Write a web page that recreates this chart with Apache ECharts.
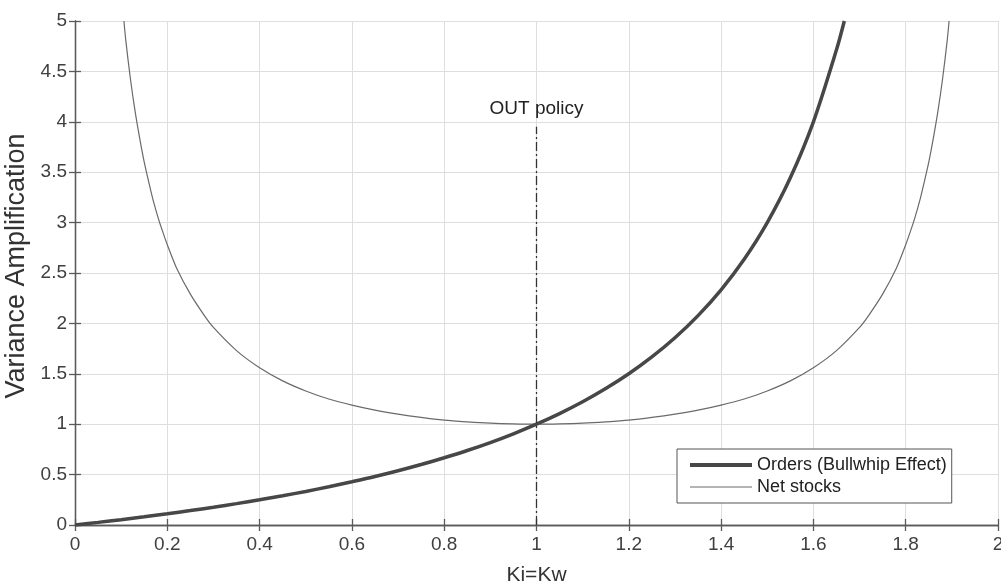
<!DOCTYPE html>
<html>
<head>
<meta charset="utf-8">
<script src="https://cdn.jsdelivr.net/npm/echarts@6/dist/echarts.min.js"></script>
<style>
html,body{margin:0;padding:0;background:#fff;}
#c{width:1001px;height:584px;}
</style>
</head>
<body>
<div id="c"></div>
<script>
// X ticks / Y ticks
var xTicks = [0, 0.2, 0.4, 0.6, 0.8, 1, 1.2, 1.4, 1.6, 1.8, 2];
var yTicks = [0, 0.5, 1, 1.5, 2, 2.5, 3, 3.5, 4, 4.5, 5];

// Orders (Bullwhip Effect)
var ordersK = [0, 0.05, 0.1, 0.15, 0.2, 0.25, 0.3, 0.35, 0.4, 0.45, 0.5, 0.55, 0.6, 0.65, 0.7, 0.75, 0.8, 0.85, 0.9, 0.95, 1.0,
  1.05, 1.1, 1.15, 1.2, 1.25, 1.3, 1.35, 1.4, 1.45, 1.5, 1.55, 1.6, 1.65, 1.667];
var ordersVal = [0, 0.026, 0.053, 0.081, 0.111, 0.143, 0.176, 0.212, 0.25, 0.29, 0.333, 0.379, 0.429, 0.481, 0.538, 0.6, 0.667, 0.739, 0.818, 0.905, 1.0,
  1.105, 1.222, 1.353, 1.5, 1.667, 1.857, 2.077, 2.333, 2.636, 3.0, 3.444, 4.0, 4.714, 5.0];

// Net stocks
var netK = [0.106, 0.11, 0.12, 0.13, 0.14, 0.15, 0.16, 0.17, 0.18, 0.19, 0.2, 0.22, 0.25, 0.28, 0.3, 0.35, 0.4, 0.45, 0.5, 0.55, 0.6, 0.65, 0.7, 0.75, 0.8, 0.85, 0.9, 0.95, 1.0,
  1.05, 1.1, 1.15, 1.2, 1.25, 1.3, 1.35, 1.4, 1.45, 1.5, 1.55, 1.6, 1.65, 1.7, 1.72, 1.75, 1.78, 1.8, 1.81, 1.82, 1.83, 1.84, 1.85, 1.86, 1.87, 1.88, 1.89, 1.894];
var netVal = [5.0, 4.81, 4.43, 4.11, 3.84, 3.60, 3.40, 3.21, 3.05, 2.91, 2.78, 2.55, 2.29, 2.08, 1.96, 1.73, 1.56, 1.43, 1.33, 1.25, 1.19, 1.14, 1.10, 1.067, 1.04, 1.023, 1.01, 1.003, 1.0,
  1.003, 1.01, 1.023, 1.04, 1.067, 1.10, 1.14, 1.19, 1.25, 1.33, 1.43, 1.56, 1.73, 1.96, 2.08, 2.29, 2.55, 2.78, 2.91, 3.05, 3.21, 3.40, 3.60, 3.84, 4.11, 4.43, 4.81, 5.0];

// OUT policy marker line
var outK = [1, 1];
var outVal = [0, 3.95];
var outLabel = 'OUT policy';

var seriesNames = ['Orders (Bullwhip Effect)', 'Net stocks'];
var xName = 'Ki=Kw';
var yName = 'Variance Amplification';

function pairs(a, b) { return a.map(function (v, i) { return [v, b[i]]; }); }

var FONT = '"Liberation Sans", Arial, Helvetica, sans-serif';
var AX = '#5a5a5a';
var C1 = '#474747', C2 = '#6a6a6a';

var chart = echarts.init(document.getElementById('c'), null, {renderer: 'canvas'});
chart.setOption({
  backgroundColor: '#fff',
  animation: false,
  textStyle: {fontFamily: FONT},
  grid: {left: 75, right: 3, top: 21, bottom: 59, containLabel: false, outerBoundsMode: 'none'},
  legend: {
    orient: 'vertical',
    left: 677, top: 449,
    padding: [6, 5, 6, 11],
    itemGap: 2,
    itemWidth: 62, itemHeight: 14,
    borderColor: '#555', borderWidth: 1,
    backgroundColor: '#fff',
    itemStyle: {opacity: 0},
    data: [
      {name: seriesNames[0], lineStyle: {width: 4, color: C1, opacity: 1}},
      {name: seriesNames[1], lineStyle: {width: 1.2, color: C2, opacity: 1}}
    ],
    textStyle: {fontSize: 18, color: '#222', fontFamily: FONT, lineHeight: 20}
  },
  xAxis: [{
    type: 'value', min: xTicks[0], max: xTicks[xTicks.length - 1], interval: 0.2,
    name: xName, nameLocation: 'middle', nameGap: 40,
    nameTextStyle: {fontSize: 21, color: '#333', fontFamily: FONT},
    axisLine: {show: true, lineStyle: {color: AX, width: 1.3}},
    axisTick: {show: true, inside: true, length: 6, lineStyle: {color: AX, width: 1.3}},
    axisLabel: {fontSize: 19, color: '#404040', margin: 10, fontFamily: FONT},
    splitLine: {show: true, lineStyle: {color: '#dedede', width: 1}}
  }, {
    type: 'value', position: 'top', min: xTicks[0], max: xTicks[xTicks.length - 1], interval: 0.2,
    axisLine: {show: true, lineStyle: {color: AX, width: 1.3}},
    axisTick: {show: true, inside: true, length: 6, lineStyle: {color: AX, width: 1.3}},
    axisLabel: {show: false}, splitLine: {show: false}
  }],
  yAxis: [{
    type: 'value', min: yTicks[0], max: yTicks[yTicks.length - 1], interval: 0.5,
    name: yName, nameLocation: 'middle', nameGap: 40,
    nameTextStyle: {fontSize: 27, color: '#333', fontFamily: FONT, padding: [0, 0, 0, 14]},
    axisLine: {show: true, lineStyle: {color: AX, width: 1.3}},
    axisTick: {show: true, inside: true, length: 6, lineStyle: {color: AX, width: 1.3}},
    axisLabel: {fontSize: 19, color: '#404040', margin: 8, fontFamily: FONT},
    splitLine: {show: true, lineStyle: {color: '#dedede', width: 1}}
  }, {
    type: 'value', position: 'right', min: yTicks[0], max: yTicks[yTicks.length - 1], interval: 0.5,
    axisLine: {show: true, lineStyle: {color: AX, width: 1.3}},
    axisTick: {show: true, inside: true, length: 6, lineStyle: {color: AX, width: 1.3}},
    axisLabel: {show: false}, splitLine: {show: false}
  }],
  series: [{
    name: seriesNames[0], type: 'line', data: pairs(ordersK, ordersVal),
    showSymbol: false, symbol: 'none', smooth: 0.3, clip: true,
    lineStyle: {color: C1, width: 3.5}, itemStyle: {color: C1}, z: 4
  }, {
    name: seriesNames[1], type: 'line', data: pairs(netK, netVal),
    showSymbol: false, symbol: 'none', smooth: 0.3, clip: true,
    lineStyle: {color: C2, width: 1.2}, itemStyle: {color: C2}, z: 3
  }, {
    name: 'OUT', type: 'line', data: pairs(outK, outVal),
    symbol: 'none', showSymbol: false, silent: true,
    lineStyle: {color: '#333', width: 1.3, type: [9, 3, 2, 3]},
    markPoint: {
      symbol: 'circle', symbolSize: 0,
      data: [{coord: [outK[1], outVal[1]], value: outLabel}],
      label: {show: true, position: 'top', distance: 9, formatter: outLabel, fontSize: 19, color: '#222', fontFamily: FONT}
    },
    z: 5
  }]
});
</script>
</body>
</html>
